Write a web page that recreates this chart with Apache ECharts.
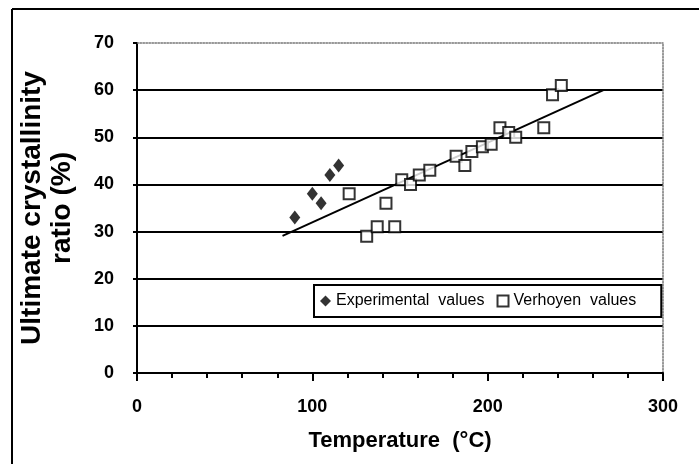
<!DOCTYPE html>
<html>
<head>
<meta charset="utf-8">
<script src="https://cdn.jsdelivr.net/npm/echarts@6/dist/echarts.min.js"></script>
<style>
  html, body { margin: 0; padding: 0; background: #fff; }
</style>
</head>
<body>
<div id="MyChart" style="width: 699px;height:464px;"></div>
<script>
// Experimental values (diamonds)
const expTemp = [90, 100, 105, 110, 115]
const expRatio = [33, 38, 36, 42, 44]
// Verhoyen values (open squares)
const verTemp = [121, 131, 137, 142, 147, 151, 156, 161, 167, 182, 187, 191, 197, 202, 207, 212, 216, 232, 237, 242]
const verRatio = [38, 29, 31, 36, 31, 41, 40, 42, 43, 46, 44, 47, 48, 48.5, 52, 51, 50, 52, 59, 61]
// trend line end points
const trendTemp = [83, 266]
const trendRatio = [29.1, 60]
// axis ticks
const xTicks = [0, 100, 200, 300]
const yTicks = [0, 10, 20, 30, 40, 50, 60, 70]

function zip (xs, ys) {
  let out = []
  for (let i = 0; i < xs.length; i++) {
    out.push([xs[i], ys[i]])
  }
  return out
}

const font = "'Liberation Sans', Arial, sans-serif"
let myChart = echarts.init(document.getElementById('MyChart'))

// grid lines: black for 0..60, none at 70 (top border drawn by second axis)
let gridColors = yTicks.map((v, i) => i === yTicks.length - 1 ? 'transparent' : '#000')

let option = {
  animation: false,
  backgroundColor: '#fff',
  textStyle: { fontFamily: font },
  grid: { left: 137, right: 36, top: 43, bottom: 91 },
  graphic: [
    { type: 'line', shape: { x1: 12, y1: 464, x2: 12, y2: 9 }, style: { stroke: '#000', lineWidth: 2 } },
    { type: 'line', shape: { x1: 12, y1: 9, x2: 699, y2: 9 }, style: { stroke: '#000', lineWidth: 2 } }
  ],
  legend: {
    left: 314,
    top: 285,
    orient: 'horizontal',
    padding: [8, 25, 8, 6],
    itemGap: 12,
    itemWidth: 11,
    itemHeight: 11,
    borderColor: '#000',
    borderWidth: 2,
    backgroundColor: '#fff',
    textStyle: { fontSize: 16, color: '#000', fontFamily: font },
    data: [
      { name: 'Experimental  values', icon: 'diamond' },
      { name: 'Verhoyen  values', icon: 'rect' }
    ]
  },
  xAxis: [
    {
      type: 'value',
      min: xTicks[0],
      max: xTicks[xTicks.length - 1],
      interval: 100,
      name: 'Temperature  (°C)',
      nameLocation: 'middle',
      nameGap: 57,
      nameTextStyle: { fontSize: 22, fontWeight: 'bold', color: '#000', fontFamily: font },
      axisLine: { show: true, lineStyle: { color: '#000', width: 2 } },
      axisTick: { show: true, length: 8, lineStyle: { color: '#000', width: 2 } },
      minorTick: { show: true, splitNumber: 5, length: 5, lineStyle: { color: '#000', width: 2 } },
      axisLabel: { margin: 25, fontSize: 18, fontWeight: 'bold', color: '#000', fontFamily: font },
      splitLine: { show: false }
    },
    {
      type: 'value',
      position: 'top',
      min: xTicks[0],
      max: xTicks[xTicks.length - 1],
      axisLine: { show: true, onZero: false, lineStyle: { color: '#777', width: 1.5, type: 'dotted' } },
      axisTick: { show: false },
      axisLabel: { show: false },
      splitLine: { show: false }
    }
  ],
  yAxis: [
    {
      type: 'value',
      min: yTicks[0],
      max: yTicks[yTicks.length - 1],
      interval: 10,
      name: 'Ultimate crystallinity\nratio (%)',
      nameLocation: 'middle',
      nameGap: 60,
      nameTextStyle: { fontSize: 28, fontWeight: 'bold', color: '#000', lineHeight: 30, fontFamily: font },
      axisLine: { show: true, lineStyle: { color: '#000', width: 2 } },
      axisTick: { show: true, length: 4, lineStyle: { color: '#000', width: 2 } },
      axisLabel: { margin: 23, fontSize: 18, fontWeight: 'bold', color: '#000', fontFamily: font },
      splitLine: { show: true, lineStyle: { color: gridColors, width: 2 } }
    },
    {
      type: 'value',
      position: 'right',
      min: yTicks[0],
      max: yTicks[yTicks.length - 1],
      axisLine: { show: true, onZero: false, lineStyle: { color: '#777', width: 1.5, type: 'dotted' } },
      axisTick: { show: false },
      axisLabel: { show: false },
      splitLine: { show: false }
    }
  ],
  series: [
    {
      name: 'trend',
      type: 'line',
      data: zip(trendTemp, trendRatio),
      showSymbol: false,
      lineStyle: { color: '#000', width: 2 },
      z: 2
    },
    {
      name: 'Experimental  values',
      type: 'scatter',
      data: zip(expTemp, expRatio),
      symbol: 'diamond',
      symbolSize: [11, 14],
      itemStyle: { color: '#000' },
      z: 3
    },
    {
      name: 'Verhoyen  values',
      type: 'scatter',
      data: zip(verTemp, verRatio),
      symbol: 'rect',
      symbolSize: 11,
      itemStyle: { color: '#fff', borderColor: '#000', borderWidth: 2 },
      z: 4
    }
  ]
}
myChart.setOption(option)
</script>
</body>
</html>
